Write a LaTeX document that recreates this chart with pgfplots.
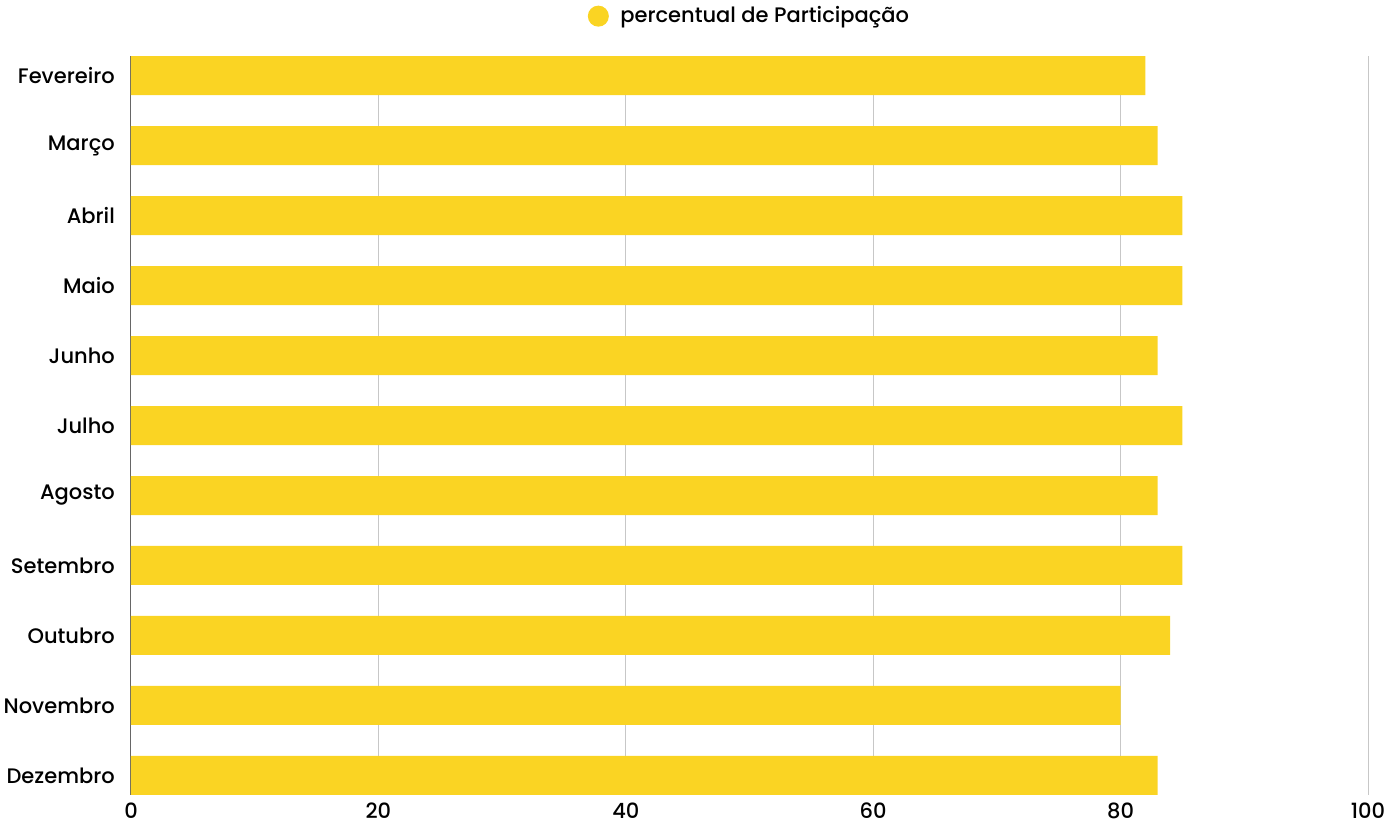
\documentclass[border=0pt]{standalone}
\usepackage{fontspec}
\setmainfont{Poppins}[UprightFont={* Medium}]
\usepackage{pgfplots}
\pgfplotsset{compat=1.18}
\definecolor{baryellow}{HTML}{FAD423}
\begin{document}
\fontsize{21}{25}\selectfont
\begin{tikzpicture}
\path[use as bounding box] (-131pt,-32pt) rectangle (1257pt,795pt);
\begin{axis}[
  at={(0,0)}, anchor=south west,
  scale only axis,
  width=1237pt, height=739pt,
  xbar, bar width=39pt,
  xmin=0, xmax=100,
  ymin=-0.279, ymax=10.279,
  y dir=reverse,
  ytick={0,...,10},
  yticklabels={Fevereiro,Março,Abril,Maio,Junho,Julho,Agosto,Setembro,Outubro,Novembro,Dezembro},
  xtick={0,20,40,60,80,100},
  xmajorgrids,
  grid style={draw=black!22, line width=1pt},
  extra x ticks={0},
  extra x tick labels={},
  extra x tick style={grid style={draw=black!60, line width=1pt}},
  axis line style={draw=none},
  major tick length=0pt,
  tick style={draw=none},
  /pgf/number format/assume math mode=true,
  ticklabel style={font=\fontsize{21}{25}\selectfont},
  yticklabel style={inner sep=0pt, xshift=-16pt, anchor=east},
  xticklabel style={inner sep=0pt, yshift=-8pt},
  legend style={draw=none, at={(0.5,1)}, anchor=south, yshift=28pt, font=\fontsize{21}{25}\selectfont, inner sep=0pt},
  legend cell align=left,
  legend image code/.code={\fill[baryellow] (0pt,0pt) circle (10.5pt); \path (-10.5pt,0pt) (20pt,0pt);},
]
\addplot[fill=baryellow, draw=none] coordinates {
(82,0) (83,1) (85,2) (85,3) (83,4) (85,5) (83,6) (85,7) (84,8) (80,9) (83,10)};
\addlegendentry{percentual de Participação}
\end{axis}
\end{tikzpicture}
\end{document}
